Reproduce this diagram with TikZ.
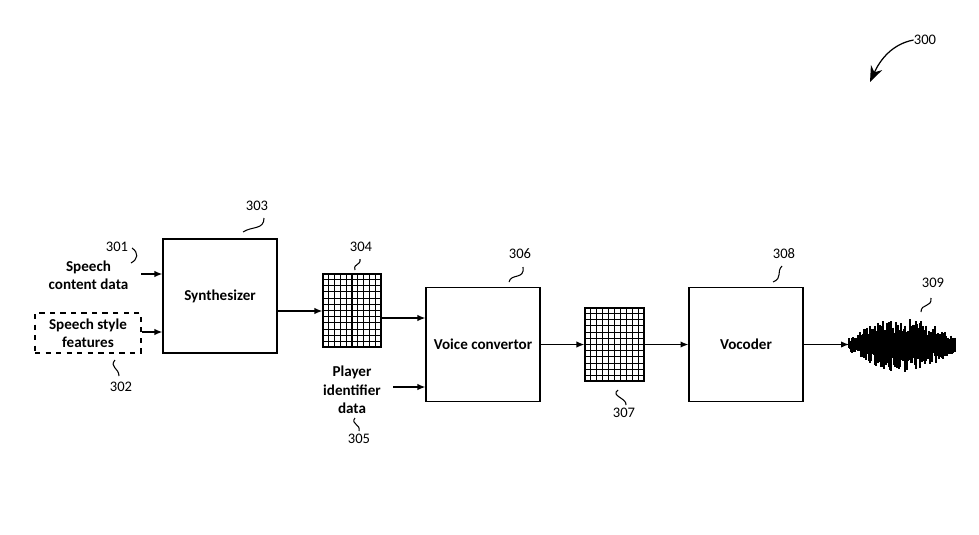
\documentclass[tikz,border=0pt]{standalone}
\usepackage{fontspec}
\setmainfont{Carlito}
\usetikzlibrary{arrows.meta,calc}
\begin{document}
\begin{tikzpicture}[x=0.02cm,y=-0.02cm,
  lbl/.style={font=\fontsize{8.6}{10.4}\selectfont\bfseries,align=center,inner sep=0pt},
  num/.style={font=\fontsize{8.3}{10}\selectfont,inner sep=0pt},
  blockbox/.style={draw,line width=0.7pt,minimum width=2.28cm,minimum height=2.28cm,inner sep=0pt,font=\fontsize{8.6}{10.4}\selectfont\bfseries},
  gridbox/.style={draw,line width=0.7pt,inner sep=0pt},
  arr/.style={line width=0.7pt,-{Latex[length=4.5pt,width=3.6pt]}},
  squig/.style={line width=0.6pt}]
\useasboundingbox[fill=white] (0,0) rectangle (979,534);

% blocks
\node[blockbox] (synth) at (220,296) {Synthesizer};
\node[blockbox] (vc) at (483,344.5) {Voice convertor};
\node[blockbox] (voc) at (746,344.5) {Vocoder};

% grids
\node[gridbox,minimum width=1.16cm,minimum height=1.46cm] (g304) at (352,310.5) {};
\node[gridbox,minimum width=1.18cm,minimum height=1.46cm] (g307) at (614.5,344.5) {};
\foreach \g in {g304,g307}{
  \foreach \k in {1,...,9}{
    \draw[line width=0.6pt] ($(\g.south west)!\k/10!(\g.south east)$) -- ($(\g.north west)!\k/10!(\g.north east)$);
  }
  \foreach \k in {1,...,11}{
    \draw[line width=0.6pt] ($(\g.south west)!\k/12!(\g.north west)$) -- ($(\g.south east)!\k/12!(\g.north east)$);
  }
}

% inputs
\node[lbl] (sc) at (88.5,275) {Speech\\content data};
\node[lbl,draw,dashed,line width=0.7pt,minimum width=2.12cm,minimum height=0.8cm] (ssf) at (88,333) {Speech style\\features};
\node[lbl] (pid) at (352,390) {Player\\identifier\\data};
\coordinate (scend) at (141,274);
\coordinate (pidend) at (393,387);

% connectors
\draw[arr] (scend) -- (synth.west |- scend);
\draw[arr] (ssf.east |- 0,332) -- (synth.west |- 0,332);
\draw[arr] (synth.east |- 0,311) -- (g304.west |- 0,311);
\draw[arr] (g304.east |- 0,318) -- (vc.west |- 0,318);
\draw[arr] (pidend) -- (vc.west |- pidend);
\draw[arr] (vc.east) -- (g307.west);
\draw[arr] (g307.east) -- (voc.west);
\coordinate (wav) at (849,344.5);
\draw[arr] (voc.east) -- (wav);

% waveform
\pgfmathsetseed{7}
\foreach \i in {0,...,106}{
  \pgfmathsetmacro\env{5+23*sin(1.593*(\i+3))}
  \pgfmathsetmacro\up{\env*(0.35+0.65*rnd)}
  \pgfmathsetmacro\dn{\env*(0.35+0.65*rnd)}
  \draw[line width=0.6pt] (849+\i,344.5-\up) -- (849+\i,344.5+\dn);
}
\fill (849,344.5) .. controls (870,334) and (940,334) .. (955,344.5) .. controls (940,355) and (870,355) .. (849,344.5);

% reference numerals
\node[num] (n300) at (925,40) {300};
\node[num] (n301) at (117,247) {301};
\node[num] (n302) at (121,387) {302};
\node[num] (n303) at (257,206) {303};
\node[num] (n304) at (361,247) {304};
\node[num] (n305) at (359,439) {305};
\node[num] (n306) at (520,254) {306};
\node[num] (n307) at (624,413) {307};
\node[num] (n308) at (784,254) {308};
\node[num] (n309) at (933,283) {309};

\draw[squig] (132,248) .. controls (139,253) and (138,259) .. (131,263);
\draw[squig] (115,360) .. controls (109,367) and (119,368) .. (119,376);
\draw[squig] (243,232) .. controls (252,226) and (264,230) .. (264,218);
\draw[squig] (355,270) .. controls (353,263) and (361,266) .. (360,259);
\draw[squig] (355,418) .. controls (350,424) and (361,424) .. (359,431);
\draw[squig] (509,282) .. controls (511,273) and (525,280) .. (523,267);
\draw[squig] (618,390) .. controls (610,396) and (627,398) .. (626,405);
\draw[squig] (773,282) .. controls (783,278) and (776,272) .. (782,266);
\draw[squig] (921,312) .. controls (921,303) and (932,308) .. (931,298);

\draw[line width=0.7pt,-{Stealth[length=9pt,width=7pt]}] (n300.west) .. controls (892,44) and (880,60) .. (870,82);
\end{tikzpicture}
\end{document}
